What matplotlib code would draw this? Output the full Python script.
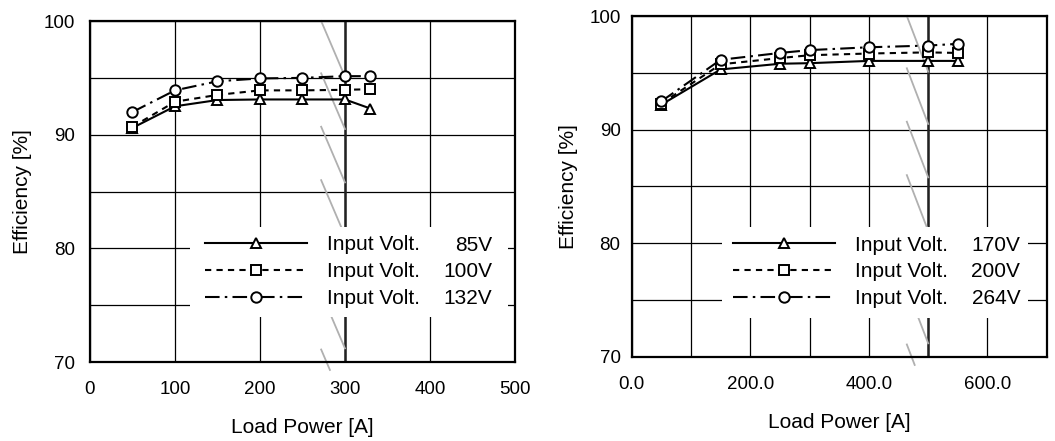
import matplotlib
matplotlib.use('Agg')
import matplotlib.pyplot as plt
from matplotlib.patches import Rectangle
from matplotlib.ticker import MultipleLocator, FormatStrFormatter

plt.rcParams['font.family'] = ['Liberation Sans', 'DejaVu Sans']
plt.rcParams['font.size'] = 13.5

# left chart data
left_x = [50, 100, 150, 200, 250, 300, 330]
eff_85 = [90.6, 92.5, 93.05, 93.1, 93.1, 93.1, 92.3]
eff_100 = [90.7, 92.9, 93.5, 93.9, 93.9, 93.95, 94.0]
eff_132 = [92.0, 93.9, 94.7, 94.95, 95.0, 95.15, 95.15]
left_volts = ['85V', '100V', '132V']

# right chart data
right_x = [50, 150, 250, 300, 400, 500, 550]
eff_170 = [92.2, 95.3, 95.8, 95.85, 96.05, 96.05, 96.05]
eff_200 = [92.3, 95.75, 96.3, 96.55, 96.7, 96.8, 96.75]
eff_264 = [92.5, 96.15, 96.75, 97.0, 97.25, 97.4, 97.55]
right_volts = ['170V', '200V', '264V']

# gray break marks
break_tops = [100, 95.4, 90.7, 86.0, 81.3, 76.1, 71.1]
break_dy = 4.9
y_clip = 69.3

styles = [
    dict(linestyle='-', marker='^'),
    dict(linestyle=(0, (3, 2.5)), marker='s'),
    dict(linestyle=(0, (7, 2.5, 1.2, 2.5)), marker='o'),
]

fig = plt.figure(figsize=(10.55, 4.41), dpi=100)
ax1 = fig.add_axes([0.0853, 0.1791, 0.4028, 0.7732])
ax2 = fig.add_axes([0.5988, 0.1905, 0.3934, 0.7732])


def draw(ax, xs, series, volts, xmax, brk_x, brk_dx, box, leg_pos, volt_x):
    lines = []
    for ys, st in zip(series, styles):
        ln, = ax.plot(xs, ys, color='black', lw=1.5, markersize=7.5,
                      markerfacecolor='white', markeredgecolor='black',
                      markeredgewidth=1.4, zorder=3, **st)
        lines.append(ln)
    ax.set_xlim(0, xmax)
    ax.set_ylim(70, 100)
    ax.yaxis.set_major_locator(MultipleLocator(10))
    ax.yaxis.set_minor_locator(MultipleLocator(5))
    ax.grid(True, which='both', color='black', lw=0.9, zorder=1)
    ax.set_axisbelow(True)
    ax.axvline(brk_x, color='#222222', lw=1.8, zorder=2)
    for t in break_tops:
        x0, y0 = brk_x - brk_dx, t
        x1, y1 = brk_x, t - break_dy
        if y1 < y_clip:
            f = (y0 - y_clip) / (y0 - y1)
            x1 = x0 + f * (x1 - x0)
            y1 = y_clip
        ax.plot([x0, x1], [y0, y1], color='#b0b0b0', lw=1.3, zorder=2.5,
                clip_on=False)
    ax.tick_params(which='both', length=0)
    ax.tick_params(axis='y', pad=11)
    ax.tick_params(axis='x', pad=14)
    for s in ax.spines.values():
        s.set_linewidth(1.6)
    ax.set_xlabel('Load Power [A]', fontsize=15, labelpad=14)
    ax.set_ylabel('Efficiency [%]', fontsize=15, labelpad=8)

    ax.add_patch(Rectangle((box[0], box[1]), box[2], box[3], transform=ax.transAxes,
                           facecolor='white', edgecolor='none', zorder=4))
    ax.legend(lines, ['Input Volt.'] * 3, loc='center left', bbox_to_anchor=leg_pos,
              frameon=False, numpoints=1, fontsize=15, handlelength=4.9,
              handletextpad=0.95, labelspacing=0.37, borderpad=0, borderaxespad=0)
    ys_txt = [leg_pos[1] + 0.078, leg_pos[1], leg_pos[1] - 0.078]
    for v, yt in zip(volts, ys_txt):
        ax.text(volt_x, yt, v, transform=ax.transAxes, ha='right', va='center',
                fontsize=15, zorder=6)


draw(ax1, left_x, [eff_85, eff_100, eff_132], left_volts, 500, 300, 28,
     (0.235, 0.132, 0.749, 0.264), (0.271, 0.265), 0.946)
ax1.xaxis.set_major_locator(MultipleLocator(100))

draw(ax2, right_x, [eff_170, eff_200, eff_264], right_volts, 700, 500, 36,
     (0.218, 0.114, 0.737, 0.267), (0.244, 0.250), 0.936)
ax2.xaxis.set_major_locator(MultipleLocator(200))
ax2.xaxis.set_minor_locator(MultipleLocator(100))
ax2.xaxis.set_major_formatter(FormatStrFormatter('%.1f'))
ax2.tick_params(axis='y', pad=8)

fig.savefig('out.png', dpi=100)
